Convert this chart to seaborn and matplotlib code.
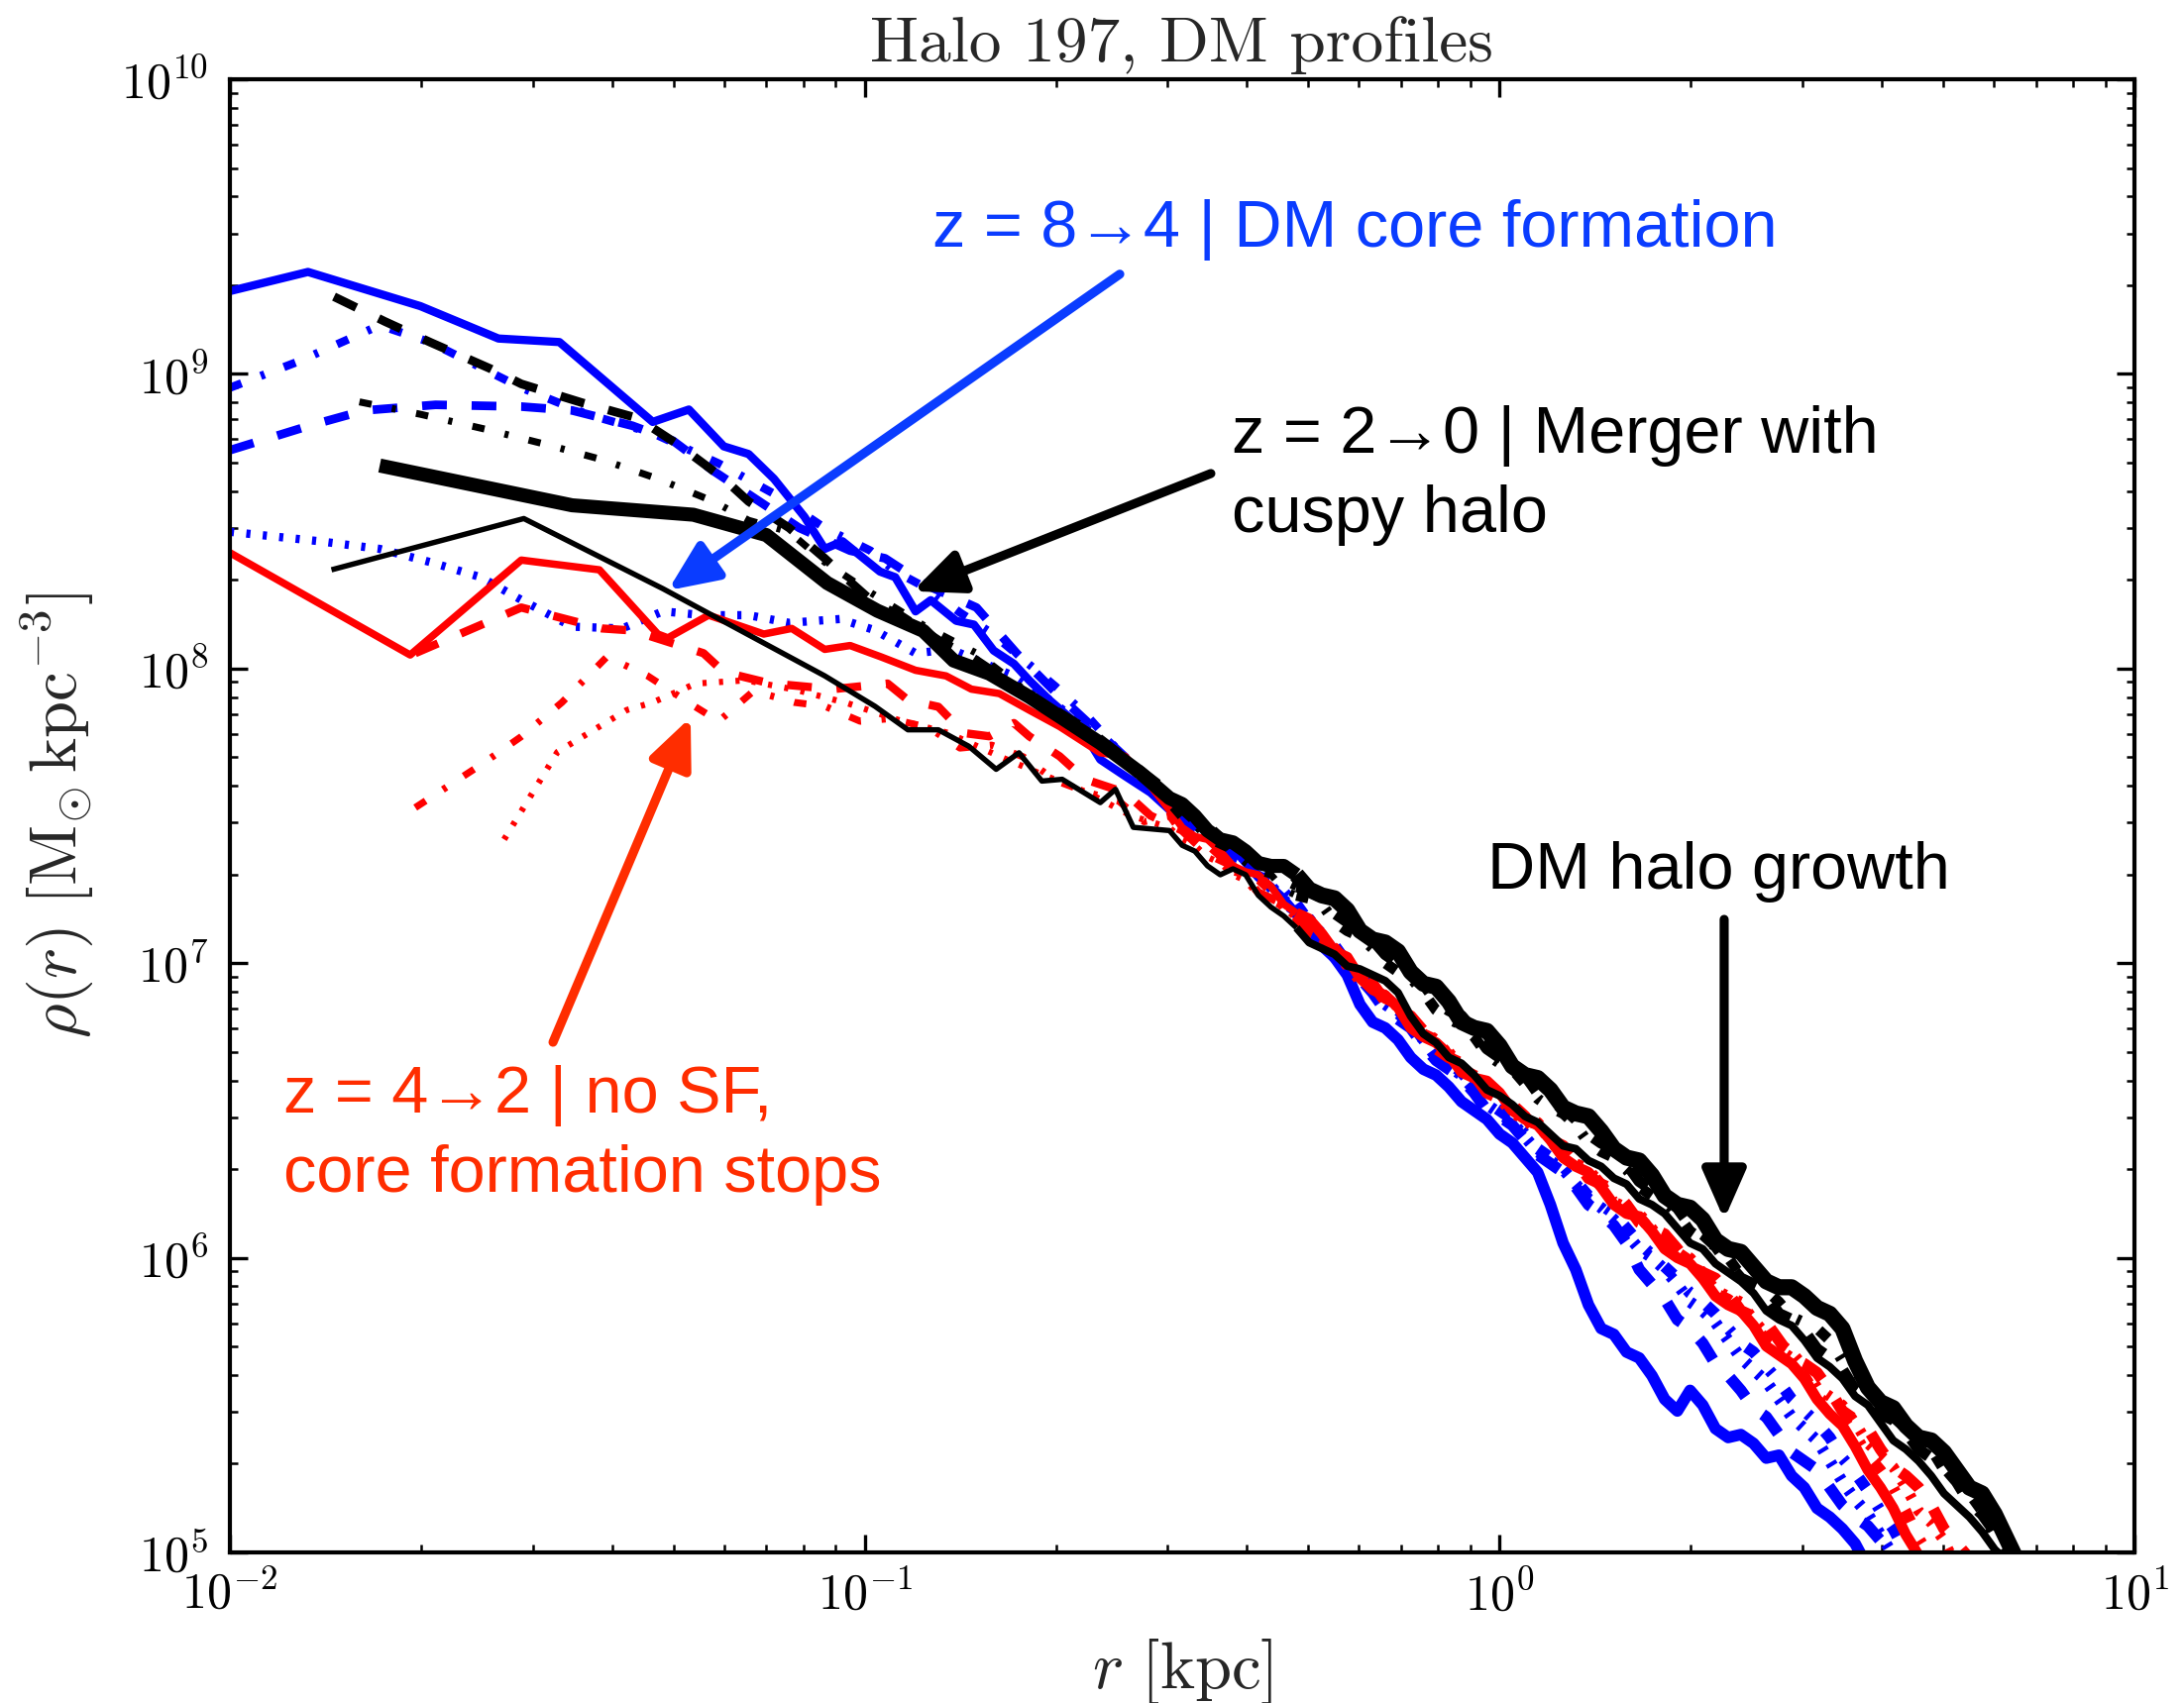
import numpy as np
import pandas as pd
import matplotlib
matplotlib.use("Agg")
import matplotlib.pyplot as plt
from matplotlib.ticker import FuncFormatter, NullFormatter
import seaborn as sns

# ---------------- data (log10 r [kpc], log10 rho [Msun kpc^-3]) ----------------
OUTER_LOGR = [-0.52, -0.50, -0.48, -0.46, -0.44, -0.42, -0.40, -0.38, -0.36, -0.34,
              -0.32, -0.30, -0.28, -0.26, -0.24, -0.22, -0.20, -0.18, -0.16, -0.14,
              -0.12, -0.10, -0.08, -0.06, -0.04, -0.02, 0.00, 0.02, 0.04, 0.06,
              0.08, 0.10, 0.12, 0.14, 0.16, 0.18, 0.20, 0.22, 0.24, 0.26,
              0.28, 0.30, 0.32, 0.34, 0.36, 0.38, 0.40, 0.42, 0.44, 0.46,
              0.48, 0.50, 0.52, 0.54, 0.56, 0.58, 0.60, 0.62, 0.64, 0.66,
              0.68, 0.70, 0.72, 0.74, 0.76, 0.78, 0.80, 0.82, 0.84]

# z = 8 -> 4 (blue)
blue_solid_logr = [-2.0, -1.877, -1.700, -1.577, -1.481, -1.334, -1.277, -1.222, -1.183, -1.143,
                   -1.095, -1.063, -1.035, -0.976, -0.952, -0.920, -0.896, -0.856, -0.828, -0.797,
                   -0.765, -0.741, -0.709, -0.661, -0.629, -0.590, -0.550]
blue_solid_logrho = [9.281, 9.346, 9.230, 9.120, 9.108, 8.837, 8.879, 8.754, 8.728, 8.644,
                     8.515, 8.406, 8.432, 8.329, 8.310, 8.194, 8.232, 8.162, 8.149, 8.061,
                     8.016, 7.960, 7.893, 7.803, 7.691, 7.635, 7.579]
blue_solid_outer = [7.52, 7.51, 7.48, 7.44, 7.42, 7.39, 7.34, 7.29, 7.26, 7.22,
                    7.17, 7.10, 7.06, 7.02, 6.96, 6.86, 6.80, 6.78, 6.74, 6.68,
                    6.64, 6.62, 6.58, 6.53, 6.50, 6.47, 6.42, 6.39, 6.34, 6.29,
                    6.18, 6.05, 5.96, 5.84, 5.76, 5.74, 5.68, 5.66, 5.60, 5.52,
                    5.48, 5.55, 5.50, 5.42, 5.39, 5.40, 5.37, 5.32, 5.33, 5.26,
                    5.22, 5.15, 5.12, 5.08, 5.03, 4.95, 4.90]

blue_dashed_logr = [-2.0, -1.875, -1.788, -1.676, -1.541, -1.461, -1.366, -1.302, -1.238, -1.175,
                    -1.103, -1.023, -0.968, -0.904, -0.824, -0.76, -0.70, -0.64, -0.58]
blue_dashed_logrho = [8.741, 8.824, 8.876, 8.895, 8.889, 8.876, 8.824, 8.773, 8.670, 8.580,
                      8.477, 8.400, 8.374, 8.284, 8.207, 8.05, 7.92, 7.80, 7.68]
blue_dashed_outer = [7.54, 7.49, 7.46, 7.44, 7.40, 7.35, 7.33, 7.30, 7.25, 7.20,
                     7.17, 7.14, 7.08, 7.02, 6.99, 6.95, 6.90, 6.84, 6.81, 6.78,
                     6.72, 6.67, 6.64, 6.61, 6.56, 6.50, 6.48, 6.45, 6.40, 6.35,
                     6.32, 6.29, 6.24, 6.18, 6.15, 6.11, 6.05, 5.96, 5.91, 5.86,
                     5.79, 5.76, 5.71, 5.64, 5.60, 5.55, 5.49, 5.46, 5.40, 5.34,
                     5.31, 5.28, 5.22, 5.16, 5.12, 5.09, 5.04, 4.98, 4.95]

blue_dashdot_logr = [-2.0, -1.891, -1.764, -1.684, -1.541, -1.437, -1.334, -1.230, -1.143, -1.063,
                     -0.991, -0.952, -0.90, -0.85, -0.80, -0.75, -0.70, -0.65, -0.60, -0.56]
blue_dashdot_logrho = [8.953, 9.043, 9.165, 9.107, 8.953, 8.863, 8.799, 8.696, 8.593, 8.477,
                       8.400, 8.330, 8.270, 8.190, 8.120, 8.030, 7.940, 7.840, 7.720, 7.630]
blue_dashdot_outer = [7.55, 7.50, 7.48, 7.44, 7.42, 7.37, 7.35, 7.30, 7.28, 7.25,
                      7.20, 7.14, 7.10, 7.06, 7.00, 6.95, 6.92, 6.87, 6.84, 6.80,
                      6.74, 6.69, 6.66, 6.63, 6.58, 6.53, 6.50, 6.47, 6.42, 6.37,
                      6.34, 6.31, 6.26, 6.21, 6.18, 6.15, 6.10, 6.05, 6.01, 5.97,
                      5.93, 5.88, 5.85, 5.81, 5.76, 5.71, 5.68, 5.63, 5.58, 5.52,
                      5.48, 5.44, 5.39, 5.32, 5.27, 5.21, 5.14, 5.08, 5.00, 4.93, 4.85]

blue_dotted_logr = [-2.0, -1.859, -1.764, -1.684, -1.605, -1.541, -1.461, -1.382, -1.318, -1.254,
                    -1.183, -1.119, -1.039, -0.984, -0.920, -0.864, -0.808, -0.76, -0.70, -0.64, -0.58]
blue_dotted_logrho = [8.464, 8.432, 8.406, 8.361, 8.310, 8.233, 8.142, 8.136, 8.194, 8.181,
                      8.181, 8.155, 8.168, 8.130, 8.052, 8.065, 8.014, 7.97, 7.88, 7.78, 7.66]
blue_dotted_outer = [7.53, 7.49, 7.47, 7.43, 7.41, 7.36, 7.34, 7.31, 7.27, 7.22,
                     7.19, 7.15, 7.09, 7.04, 7.00, 6.96, 6.91, 6.86, 6.83, 6.79,
                     6.74, 6.68, 6.65, 6.62, 6.57, 6.52, 6.49, 6.46, 6.41, 6.36,
                     6.33, 6.30, 6.25, 6.20, 6.17, 6.13, 6.08, 6.03, 6.00, 5.96,
                     5.91, 5.85, 5.82, 5.78, 5.72, 5.66, 5.62, 5.58, 5.52, 5.46,
                     5.42, 5.38, 5.31, 5.24, 5.18, 5.13, 5.06, 4.99, 4.92]

# z = 4 -> 2 (red)
red_solid_logr = [-2.0, -1.716, -1.541, -1.418, -1.326, -1.310, -1.246, -1.159, -1.115, -1.063,
                  -1.023, -0.975, -0.920, -0.872, -0.832, -0.788, -0.741, -0.693, -0.629, -0.590, -0.550]
red_solid_logrho = [8.393, 8.046, 8.368, 8.335, 8.117, 8.104, 8.181, 8.117, 8.136, 8.065,
                    8.078, 8.040, 7.994, 7.975, 7.930, 7.915, 7.859, 7.803, 7.714, 7.702, 7.602]
red_solid_outer = [7.52, 7.46, 7.43, 7.42, 7.38, 7.33, 7.31, 7.30, 7.26, 7.20,
                   7.17, 7.15, 7.10, 7.04, 7.02, 6.95, 6.91, 6.89, 6.85, 6.78,
                   6.75, 6.73, 6.69, 6.63, 6.61, 6.60, 6.56, 6.50, 6.47, 6.45,
                   6.40, 6.34, 6.31, 6.29, 6.24, 6.18, 6.15, 6.14, 6.09, 6.03,
                   6.00, 5.98, 5.93, 5.87, 5.84, 5.82, 5.77, 5.70, 5.67, 5.64,
                   5.59, 5.52, 5.47, 5.43, 5.36, 5.28, 5.22, 5.15, 5.06, 4.99, 4.90]

red_dashed_logr = [-1.708, -1.541, -1.414, -1.366, -1.254, -1.222, -1.150, -1.05, -0.964, -0.932,
                   -0.884, -0.844, -0.804, -0.765, -0.741, -0.693, -0.653, -0.590, -0.550]
red_dashed_logrho = [8.052, 8.207, 8.136, 8.129, 8.052, 7.988, 7.95, 7.93, 7.949, 7.893,
                     7.870, 7.781, 7.770, 7.815, 7.770, 7.702, 7.624, 7.579, 7.501]
red_dashed_outer = [7.47, 7.45, 7.41, 7.37, 7.35, 7.33, 7.29, 7.24, 7.22, 7.20,
                    7.16, 7.10, 7.08, 7.05, 7.00, 6.95, 6.93, 6.87, 6.84, 6.82,
                    6.77, 6.71, 6.68, 6.66, 6.62, 6.56, 6.54, 6.52, 6.48, 6.42,
                    6.40, 6.38, 6.33, 6.27, 6.25, 6.23, 6.18, 6.12, 6.10, 6.08,
                    6.03, 5.97, 5.95, 5.93, 5.88, 5.82, 5.80, 5.78, 5.72, 5.66,
                    5.64, 5.61, 5.55, 5.48, 5.45, 5.42, 5.35, 5.29, 5.26, 5.22,
                    5.16, 5.08, 5.03, 4.98, 4.90]

red_dashdot_logr = [-1.708, -1.60, -1.541, -1.477, -1.406, -1.342, -1.278, -1.230, -1.175, -1.111,
                    -1.063, -1.007, -0.96, -0.90, -0.85, -0.80, -0.75, -0.70, -0.65, -0.60, -0.56]
red_dashdot_logrho = [7.528, 7.680, 7.769, 7.885, 8.040, 7.975, 7.885, 7.821, 7.924, 7.885,
                      7.872, 7.821, 7.83, 7.80, 7.73, 7.74, 7.70, 7.62, 7.58, 7.55, 7.48]
red_dashdot_outer = [7.50, 7.44, 7.42, 7.40, 7.36, 7.31, 7.30, 7.28, 7.24, 7.18,
                     7.15, 7.13, 7.09, 7.03, 7.01, 6.98, 6.92, 6.88, 6.86, 6.80,
                     6.76, 6.74, 6.70, 6.64, 6.62, 6.60, 6.55, 6.50, 6.48, 6.46,
                     6.41, 6.35, 6.32, 6.30, 6.25, 6.19, 6.17, 6.14, 6.09, 6.04,
                     6.02, 5.99, 5.94, 5.88, 5.86, 5.83, 5.78, 5.72, 5.69, 5.66,
                     5.60, 5.53, 5.50, 5.46, 5.40, 5.33, 5.28, 5.22, 5.14, 5.05,
                     4.98, 4.93, 4.85]

red_dotted_logr = [-1.568, -1.484, -1.375, -1.334, -1.266, -1.187, -1.107, -1.027, -0.948, -0.868,
                   -0.788, -0.72, -0.65, -0.58]
red_dotted_logrho = [7.420, 7.717, 7.859, 7.885, 7.949, 7.960, 7.927, 7.882, 7.826, 7.781,
                     7.702, 7.64, 7.58, 7.50]
red_dotted_outer = [7.46, 7.42, 7.40, 7.36, 7.34, 7.30, 7.28, 7.23, 7.21, 7.19,
                    7.15, 7.10, 7.07, 7.04, 6.99, 6.94, 6.92, 6.89, 6.85, 6.79,
                    6.77, 6.74, 6.69, 6.64, 6.61, 6.58, 6.54, 6.49, 6.47, 6.45,
                    6.40, 6.34, 6.32, 6.30, 6.25, 6.19, 6.17, 6.15, 6.10, 6.04,
                    6.02, 6.00, 5.95, 5.89, 5.87, 5.85, 5.79, 5.74, 5.71, 5.68,
                    5.63, 5.56, 5.53, 5.50, 5.44, 5.37, 5.33, 5.29, 5.22, 5.14,
                    5.10, 5.04, 4.95]

# z = 2 -> 0 (black)
black_dashed_logr = [-1.836, -1.756, -1.684, -1.589, -1.541, -1.445, -1.358, -1.294, -1.222, -1.183,
                     -1.119, -1.063, -1.031, -0.984, -0.944, -0.880, -0.832, -0.77, -0.70, -0.64, -0.58]
black_dashed_logrho = [9.262, 9.178, 9.107, 9.017, 8.966, 8.902, 8.850, 8.760, 8.644, 8.567,
                       8.477, 8.374, 8.310, 8.220, 8.181, 8.091, 8.040, 7.95, 7.86, 7.78, 7.68]
black_dashed_outer = [7.58, 7.52, 7.48, 7.47, 7.43, 7.38, 7.35, 7.35, 7.33, 7.28,
                      7.26, 7.25, 7.22, 7.17, 7.14, 7.12, 7.08, 7.03, 7.00, 6.98,
                      6.93, 6.87, 6.84, 6.82, 6.77, 6.71, 6.68, 6.66, 6.62, 6.56,
                      6.53, 6.51, 6.47, 6.42, 6.39, 6.37, 6.32, 6.26, 6.23, 6.21,
                      6.17, 6.11, 6.08, 6.04, 5.98, 5.93, 5.91, 5.87, 5.81, 5.79,
                      5.75, 5.69, 5.66, 5.62, 5.55, 5.52, 5.47, 5.45, 5.41, 5.35,
                      5.32, 5.29, 5.24, 5.17, 5.13, 5.07, 4.98]

black_dashdot_logr = [-1.796, -1.700, -1.597, -1.501, -1.414, -1.326, -1.238, -1.183, -1.119, -1.063,
                      -0.991, -0.904, -0.824, -0.75, -0.68, -0.60]
black_dashdot_logrho = [8.905, 8.863, 8.812, 8.760, 8.709, 8.644, 8.567, 8.503, 8.464, 8.361,
                        8.258, 8.142, 8.052, 7.93, 7.83, 7.71]
black_dashdot_outer = [7.54, 7.49, 7.47, 7.42, 7.40, 7.38, 7.34, 7.31, 7.30, 7.25,
                       7.23, 7.22, 7.20, 7.14, 7.11, 7.09, 7.05, 7.00, 6.97, 6.95,
                       6.90, 6.84, 6.81, 6.79, 6.75, 6.69, 6.66, 6.64, 6.59, 6.54,
                       6.51, 6.49, 6.45, 6.39, 6.36, 6.34, 6.30, 6.24, 6.21, 6.19,
                       6.15, 6.09, 6.06, 6.04, 6.00, 5.94, 5.91, 5.89, 5.85, 5.80,
                       5.78, 5.76, 5.72, 5.65, 5.61, 5.58, 5.52, 5.46, 5.42, 5.39,
                       5.35, 5.28, 5.24, 5.20, 5.14, 5.05, 4.99, 4.93, 4.85]

black_thick_logr = [-1.764, -1.461, -1.270, -1.155, -1.059, -0.980, -0.908, -0.860, -0.804, -0.741,
                    -0.685, -0.629, -0.566]
black_thick_logrho = [8.689, 8.554, 8.522, 8.453, 8.290, 8.196, 8.128, 8.027, 7.983, 7.904,
                      7.826, 7.747, 7.646]
black_thick_outer = [7.56, 7.54, 7.50, 7.45, 7.42, 7.41, 7.38, 7.34, 7.33, 7.33,
                     7.30, 7.25, 7.23, 7.22, 7.18, 7.11, 7.08, 7.07, 7.04, 6.97,
                     6.93, 6.92, 6.87, 6.80, 6.78, 6.77, 6.72, 6.65, 6.62, 6.61,
                     6.57, 6.51, 6.49, 6.48, 6.43, 6.37, 6.34, 6.33, 6.28, 6.21,
                     6.18, 6.17, 6.13, 6.06, 6.03, 6.02, 5.97, 5.92, 5.90, 5.90,
                     5.87, 5.83, 5.81, 5.76, 5.65, 5.56, 5.51, 5.49, 5.43, 5.39,
                     5.38, 5.34, 5.28, 5.22, 5.20, 5.13, 5.04, 4.95, 4.85]

black_thin_logr = [-1.840, -1.537, -1.318, -1.063, -0.984, -0.932, -0.884, -0.836, -0.793, -0.757,
                   -0.721, -0.689, -0.629, -0.605, -0.577]
black_thin_logrho = [8.335, 8.509, 8.271, 7.975, 7.872, 7.792, 7.792, 7.736, 7.658, 7.714,
                     7.618, 7.624, 7.545, 7.590, 7.461]
black_thin_outer = [7.45, 7.40, 7.38, 7.33, 7.30, 7.32, 7.30, 7.23, 7.19, 7.16,
                    7.12, 7.07, 7.05, 7.03, 6.99, 6.98, 6.96, 6.94, 6.90, 6.82,
                    6.76, 6.73, 6.68, 6.66, 6.62, 6.57, 6.55, 6.52, 6.48, 6.46,
                    6.42, 6.38, 6.37, 6.33, 6.31, 6.27, 6.25, 6.20, 6.18, 6.15,
                    6.10, 6.05, 6.03, 5.98, 5.95, 5.92, 5.88, 5.82, 5.79, 5.77,
                    5.72, 5.66, 5.63, 5.59, 5.53, 5.50, 5.44, 5.38, 5.35, 5.31,
                    5.26, 5.20, 5.16, 5.12, 5.07, 5.01, 4.97]

# ---------------- style ----------------
BLUE, RED, BLACK = "#0000FF", "#FF0000", "#000000"
TXT_BLUE, TXT_RED = "#0A3CFF", "#FF2D00"
DASHED = (0, (6, 6))
DASHDOT = (0, (3, 5, 1, 5))
DOTTED = (0, (1, 3))

# (inner r, inner rho, outer rho, colour, linestyle, inner lw, outer lw)
series = [
    (blue_dashed_logr, blue_dashed_logrho, blue_dashed_outer, BLUE, DASHED, 2.1, 2.8),
    (blue_dashdot_logr, blue_dashdot_logrho, blue_dashdot_outer, BLUE, DASHDOT, 2.0, 2.8),
    (blue_dotted_logr, blue_dotted_logrho, blue_dotted_outer, BLUE, DOTTED, 2.0, 2.8),
    (blue_solid_logr, blue_solid_logrho, blue_solid_outer, BLUE, "-", 2.0, 2.8),
    (red_dashdot_logr, red_dashdot_logrho, red_dashdot_outer, RED, DASHDOT, 1.7, 2.6),
    (red_dotted_logr, red_dotted_logrho, red_dotted_outer, RED, DOTTED, 1.5, 2.6),
    (red_dashed_logr, red_dashed_logrho, red_dashed_outer, RED, DASHED, 2.0, 2.8),
    (red_solid_logr, red_solid_logrho, red_solid_outer, RED, "-", 1.8, 2.6),
    (black_dashdot_logr, black_dashdot_logrho, black_dashdot_outer, BLACK, DASHDOT, 1.7, 2.6),
    (black_dashed_logr, black_dashed_logrho, black_dashed_outer, BLACK, DASHED, 2.1, 2.8),
    (black_thin_logr, black_thin_logrho, black_thin_outer, BLACK, "-", 1.3, 1.9),
    (black_thick_logr, black_thick_logrho, black_thick_outer, BLACK, "-", 3.4, 3.9),
]
SPLIT = 10  # outer-grid index where the noisy outskirts begin

sns.set_style("ticks")
plt.rcParams.update({
    "mathtext.fontset": "cm",
    "lines.scale_dashes": False,
    "lines.solid_capstyle": "butt",
    "lines.solid_joinstyle": "round",
    "axes.linewidth": 1.0,
    "axes.edgecolor": "black",
})
plt.rcParams["font.family"] = ["DejaVu Sans"]

W, H, DPI = 2204, 1719, 300
fig = plt.figure(figsize=(W / DPI, H / DPI), dpi=DPI)
ax = fig.add_axes([232 / W, 1 - 1567 / H, (2154 - 232) / W, (1567 - 80) / H])
ax.set_xscale("log")
ax.set_yscale("log")

for lr, lrho, outer, col, ls, lw_in, lw_out in series:
    logr = np.concatenate([np.asarray(lr), np.asarray(OUTER_LOGR[:len(outer)])])
    logrho = np.concatenate([np.asarray(lrho), np.asarray(outer)])
    df = pd.DataFrame({"r": 10 ** logr, "rho": 10 ** logrho})
    k = len(lr) + SPLIT
    sns.lineplot(data=df.iloc[:k + 1], x="r", y="rho", ax=ax, color=col, linestyle=ls,
                 lw=lw_in, estimator=None, sort=False, legend=False)
    sns.lineplot(data=df.iloc[k:], x="r", y="rho", ax=ax, color=col, linestyle=ls,
                 lw=lw_out, estimator=None, sort=False, legend=False)

ax.set_xlim(1e-2, 1e1)
ax.set_ylim(1e5, 1e10)

fmt = FuncFormatter(lambda v, p: r"$10^{%d}$" % int(round(np.log10(v))))
ax.xaxis.set_major_formatter(fmt)
ax.yaxis.set_major_formatter(fmt)
ax.xaxis.set_minor_formatter(NullFormatter())
ax.yaxis.set_minor_formatter(NullFormatter())
ax.tick_params(which="both", direction="in", top=True, right=True, colors="black")
ax.tick_params(which="major", length=4.4, width=0.8, labelsize=12)
ax.tick_params(which="minor", length=2.0, width=0.6)
ax.tick_params(axis="y", which="major", pad=5.3)
ax.tick_params(axis="x", which="major", pad=4.5)

ax.set_title("Halo 197, DM profiles", fontsize=15.7, pad=4.3, family="cmr10")
ax.set_xlabel(r"$r\ [\mathrm{kpc}]$", fontsize=16, labelpad=4)
ax.set_ylabel(r"$\rho(r)\ [\mathrm{M}_{\odot}\,\mathrm{kpc}^{-3}]$", fontsize=16, labelpad=6)

# ---------------- annotations ----------------
def arrow(tail, tip, col):
    ax.annotate("", xy=tip, xytext=tail,
                arrowprops=dict(arrowstyle="-|>,head_length=0.5,head_width=0.22",
                                color=col, lw=2.2, mutation_scale=20,
                                shrinkA=0, shrinkB=0))

arrow((0.2522, 2.18e9), (0.04897, 1.84e8), TXT_BLUE)
arrow((0.3509, 4.59e8), (0.1190, 1.83e8), BLACK)
arrow((0.03228, 5.39e6), (0.05317, 6.83e7), TXT_RED)
arrow((2.258, 1.408e7), (2.258, 1.349e6), BLACK)

SANS = ["Liberation Sans", "DejaVu Sans"]
fs = 16
fig.text(941 / W, 1 - 249 / H, "z = 8→4 | DM core formation", color=TXT_BLUE,
         fontsize=fs, family=SANS, va="baseline", ha="left")
fig.text(1243 / W, 1 - 457 / H, "z = 2→0 | Merger with", color=BLACK,
         fontsize=fs, family=SANS, va="baseline", ha="left")
fig.text(1243 / W, 1 - 537 / H, "cuspy halo", color=BLACK,
         fontsize=fs, family=SANS, va="baseline", ha="left")
fig.text(286 / W, 1 - 1123 / H, "z = 4→2 | no SF,", color=TXT_RED,
         fontsize=fs, family=SANS, va="baseline", ha="left")
fig.text(286 / W, 1 - 1203 / H, "core formation stops", color=TXT_RED,
         fontsize=fs, family=SANS, va="baseline", ha="left")
fig.text(1501 / W, 1 - 897 / H, "DM halo growth", color=BLACK,
         fontsize=fs, family=SANS, va="baseline", ha="left")

fig.savefig("out.png", dpi=DPI, facecolor="white")
